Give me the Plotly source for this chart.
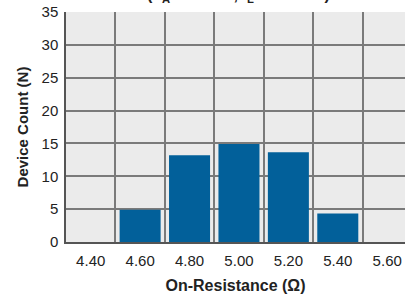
import plotly.graph_objects as go

categories = ["4.40", "4.60", "4.80", "5.00", "5.20", "5.40", "5.60"]
counts = [0, 4.9, 13.2, 14.9, 13.65, 4.35, 0]
y_ticks = [0, 5, 10, 15, 20, 25, 30, 35]

fig = go.Figure()
fig.add_trace(go.Bar(
    x=categories, y=counts, width=0.83,
    marker=dict(color="#02609a", line=dict(width=0)),
    hoverinfo="skip",
))

font = "Liberation Sans, Arial, sans-serif"
fig.update_layout(
    width=405, height=298,
    margin=dict(l=66, r=0, t=12, b=56, autoexpand=False),
    paper_bgcolor="white", plot_bgcolor="#ebebeb",
    showlegend=False,
    font=dict(family=font, size=15, color="#222"),
    xaxis=dict(
        type="category", tickson="boundaries", range=[-0.5, 6.36],
        showgrid=True, gridcolor="#7a7a7a", gridwidth=1.5,
        showline=True, linecolor="#555", linewidth=1.5,
        ticks="", ticklen=0, automargin=False, ticklabelstandoff=4,
        title=dict(text="<b>On-Resistance (Ω)</b>", font=dict(size=16, family=font), standoff=12),
        tickfont=dict(size=15), fixedrange=True,
    ),
    yaxis=dict(
        range=[0, 35], tickvals=y_ticks, automargin=False, ticklabelstandoff=3,
        showgrid=True, gridcolor="#7a7a7a", gridwidth=1.5,
        showline=True, linecolor="#555", linewidth=1.5,
        ticks="", zeroline=False, fixedrange=True,
        title=dict(text="<b>Device Count (N)</b>", font=dict(size=15, family=font), standoff=9),
        tickfont=dict(size=15),
    ),
    annotations=[dict(
        text="<b>(T<sub>A</sub> = +25°C, I<sub>L</sub> = 100mA)</b>",
        xref="paper", yref="paper", x=0.51, y=1.0, yshift=5,
        xanchor="center", yanchor="bottom", showarrow=False,
        font=dict(size=16, family=font, color="#222"),
    )],
)

fig.write_html(
    "out.html",
    config={"displayModeBar": False},
    post_script="document.body.style.margin='0';document.body.style.padding='0';",
)
